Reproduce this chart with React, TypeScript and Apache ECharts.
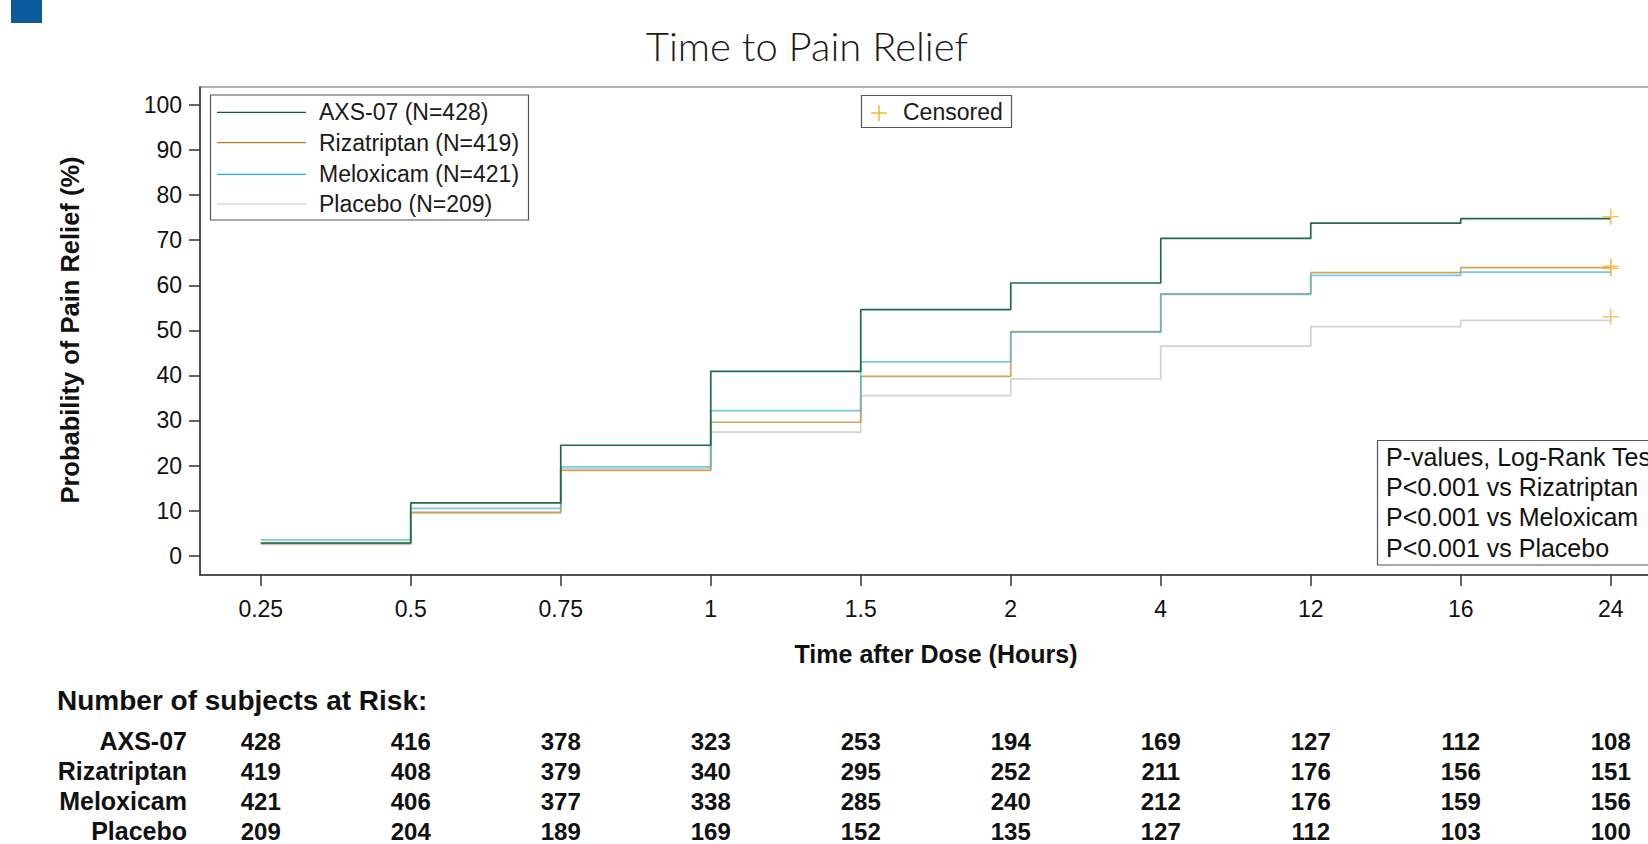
import React, { useEffect, useRef } from 'react';
import * as echarts from 'echarts';

// ---- data ----
const timeLabels = ['0.25', '0.5', '0.75', '1', '1.5', '2', '4', '12', '16', '24'];
const groupNames = ['AXS-07', 'Rizatriptan', 'Meloxicam', 'Placebo'];
const groupN = [428, 419, 421, 209];
// probability of pain relief (%) held over each interval [t_k, t_k+1)
const axsValues = [2.8, 11.7, 24.5, 40.9, 54.6, 60.5, 70.4, 73.8, 74.8];
const rizValues = [2.7, 9.6, 18.9, 29.6, 39.8, 49.7, 58.1, 62.8, 63.9];
const melValues = [3.5, 10.5, 19.7, 32.2, 43.0, 49.6, 58.0, 62.2, 62.9];
const plaValues = [2.5, 9.5, 19.3, 27.4, 35.5, 39.2, 46.5, 50.8, 52.2];
const censorValues = [75.2, 64.2, 63.7, 53.0];
const atRiskAxs = [428, 416, 378, 323, 253, 194, 169, 127, 112, 108];
const atRiskRiz = [419, 408, 379, 340, 295, 252, 211, 176, 156, 151];
const atRiskMel = [421, 406, 377, 338, 285, 240, 212, 176, 159, 156];
const atRiskPla = [209, 204, 189, 169, 152, 135, 127, 112, 103, 100];
const yTicks = [0, 10, 20, 30, 40, 50, 60, 70, 80, 90, 100];
const pValueLines = ['P-values, Log-Rank Test', 'P<0.001 vs Rizatriptan', 'P<0.001 vs Meloxicam', 'P<0.001 vs Placebo'];

const groupValues = [axsValues, rizValues, melValues, plaValues];
const groupAtRisk = [atRiskAxs, atRiskRiz, atRiskMel, atRiskPla];
const plotColors = ['#1f6a4e', '#d08a28', '#45b9dc', '#d2d2d2'];
const plotOpacity = [1, 0.8, 0.75, 1];
const legendColors = ['#0b5d3b', '#b97a20', '#2cb3d6', '#c8c8c8'];
const censorColor = '#f6b23a';

const ARIAL = '"Liberation Sans", Arial, sans-serif';

export default function App() {
  const ref = useRef<HTMLDivElement>(null);

  useEffect(() => {
    document.body.style.margin = '0';
    if (!ref.current) return;
    const chart = echarts.init(ref.current, undefined, { renderer: 'svg' });

    const idx = timeLabels.map((_, i) => i);
    const stepData = (vals: number[]) => {
      const d: number[][] = vals.map((v, i) => [i, v]);
      d.push([timeLabels.length - 1, vals[vals.length - 1]]);
      return d;
    };

    const drawOrder = [3, 1, 2, 0];
    const lineSeries = drawOrder.map((g, o) => ({
      name: groupNames[g],
      type: 'line',
      step: 'end',
      symbol: 'none',
      data: stepData(groupValues[g]),
      lineStyle: { color: plotColors[g], width: 1.7, opacity: plotOpacity[g] },
      itemStyle: { color: plotColors[g] },
      z: 2 + o,
    }));

    const censorSeries = {
      name: 'Censored',
      type: 'scatter',
      symbol: 'path://M0,8L16,8M8,0L8,16',
      symbolSize: 16,
      data: censorValues.map((v) => [timeLabels.length - 1, v]),
      itemStyle: { color: 'rgba(0,0,0,0)', borderColor: censorColor, borderWidth: 1.5 },
      z: 10,
    };

    chart.setOption({
      animation: false,
      backgroundColor: '#ffffff',
      grid: {
        left: 200,
        top: 87,
        width: 150 * (9.6 + 0.405),
        height: 488,
        show: true,
        borderColor: '#666',
        borderWidth: 1.2,
      },
      xAxis: {
        type: 'value',
        min: -0.405,
        max: 9.6,
        axisLine: { show: true, onZero: false, lineStyle: { color: '#333', width: 1.5 } },
        axisTick: { show: true, customValues: idx, length: 11, lineStyle: { color: '#333', width: 1.5 } },
        axisLabel: {
          customValues: idx,
          formatter: (v: number) => timeLabels[Math.round(v)] ?? '',
          fontSize: 23,
          fontFamily: ARIAL,
          color: '#111',
          margin: 22,
        },
        splitLine: { show: false },
      },
      yAxis: {
        type: 'value',
        min: -4.3,
        max: 104,
        axisLine: { show: true, onZero: false, lineStyle: { color: '#333', width: 1.5 } },
        axisTick: { show: true, customValues: yTicks, length: 11, lineStyle: { color: '#333', width: 1.5 } },
        axisLabel: {
          customValues: yTicks,
          fontSize: 23,
          fontFamily: ARIAL,
          color: '#111',
          margin: 18,
        },
        splitLine: { show: false },
      },
      series: [...lineSeries, censorSeries],
    });

    // graphics
    const g: any[] = [];
    const txt = (text: string, x: number, y: number, o: any = {}) => ({
      type: 'text',
      x,
      y,
      rotation: o.rotation ?? 0,
      z: 100,
      style: {
        text,
        fill: o.fill ?? '#111',
        fontSize: o.fontSize ?? 23,
        fontWeight: o.fontWeight ?? 'normal',
        fontFamily: o.fontFamily ?? ARIAL,
        textAlign: o.align ?? 'left',
        textVerticalAlign: 'middle',
      },
    });

    g.push({ type: 'rect', shape: { x: 11, y: 0, width: 31, height: 23 }, style: { fill: '#0b5a9c' }, z: 100 });
    g.push(txt('Time to Pain Relief', 807, 46, { fontSize: 40, fontFamily: 'Lato, "Noto Sans", sans-serif', fontWeight: 300, align: 'center', fill: '#1a1a1a' }));

    // series legend
    g.push({ type: 'rect', shape: { x: 210.5, y: 95, width: 318, height: 125 }, style: { fill: '#fff', stroke: '#555', lineWidth: 1.2 }, z: 99 });
    const legendYs = [112.3, 142.7, 174.3, 204];
    groupNames.forEach((name, i) => {
      g.push({ type: 'line', shape: { x1: 217, y1: legendYs[i], x2: 306, y2: legendYs[i] }, style: { stroke: legendColors[i], lineWidth: 1.2 }, z: 100 });
      g.push(txt(`${name} (N=${groupN[i]})`, 319, legendYs[i], { fill: '#1a1a1a' }));
    });

    // censored legend
    g.push({ type: 'rect', shape: { x: 861.5, y: 95.5, width: 150, height: 32 }, style: { fill: '#fff', stroke: '#555', lineWidth: 1.2 }, z: 99 });
    g.push({ type: 'line', shape: { x1: 871, y1: 113, x2: 887, y2: 113 }, style: { stroke: censorColor, lineWidth: 1.5 }, z: 100 });
    g.push({ type: 'line', shape: { x1: 879, y1: 105, x2: 879, y2: 121 }, style: { stroke: censorColor, lineWidth: 1.5 }, z: 100 });
    g.push(txt('Censored', 903, 112, { fill: '#1a1a1a' }));

    // p-value box
    g.push({ type: 'rect', shape: { x: 1377.5, y: 440.5, width: 400, height: 124.5 }, style: { fill: '#fff', stroke: '#555', lineWidth: 1.2 }, z: 99 });
    const pYs = [457, 487, 517, 548];
    pValueLines.forEach((t, i) => g.push(txt(t, 1386, pYs[i], { fontSize: 25, fill: '#111' })));

    // axis titles
    g.push(txt('Time after Dose (Hours)', 936, 654, { fontSize: 25, fontWeight: 'bold', align: 'center' }));
    g.push(txt('Probability of Pain Relief (%)', 70, 330, { fontSize: 25.5, fontWeight: 'bold', align: 'center', rotation: Math.PI / 2 }));

    // at-risk table
    g.push(txt('Number of subjects at Risk:', 57, 700, { fontSize: 28, fontWeight: 'bold' }));
    const rowYs = [741, 771, 801, 831];
    groupNames.forEach((name, r) => {
      g.push(txt(name, 187, rowYs[r], { fontSize: 25, fontWeight: 'bold', align: 'right' }));
      groupAtRisk[r].forEach((n, k) => {
        const px = chart.convertToPixel({ gridIndex: 0 }, [k, 0]) as number[];
        g.push(txt(String(n), px[0], rowYs[r], { fontSize: 24, fontWeight: 'bold', align: 'center' }));
      });
    });

    chart.setOption({ graphic: { elements: g } });

    return () => chart.dispose();
  }, []);

  return (
    <div style={{ width: 1648, height: 844, overflow: 'hidden', background: '#fff', position: 'relative' }}>
      <div ref={ref} style={{ width: 1760, height: 844 }} />
    </div>
  );
}
